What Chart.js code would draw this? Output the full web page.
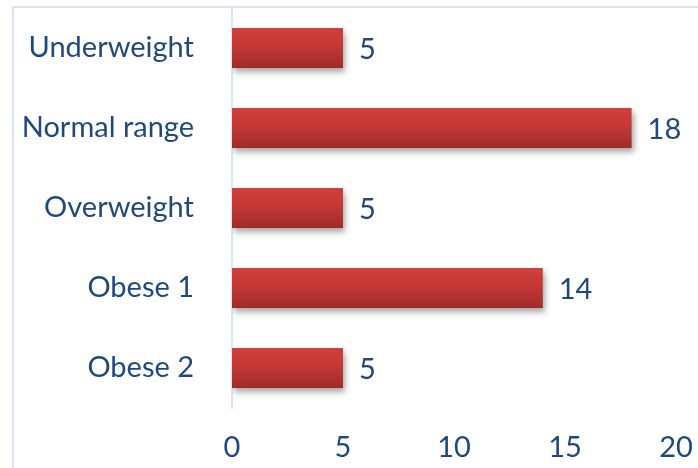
<!DOCTYPE html>
<html>
<head>
<meta charset="utf-8">
<script src="https://cdn.jsdelivr.net/npm/chart.js@4/dist/chart.umd.min.js"></script>
<style>
  html, body { margin: 0; padding: 0; background: #fff; overflow: hidden; }
  #wrap { width: 698px; height: 468px; }
</style>
</head>
<body>
<div id="wrap"><canvas id="bmiChart"></canvas></div>
<script>
const categories = ["Underweight", "Normal range", "Overweight", "Obese 1", "Obese 2"];
const counts = [5, 18, 5, 14, 5];
const xTicks = [0, 5, 10, 15, 20];

const textColor = "#1F497D";
const lineColor = "#DAE4F2";
const fontFamily = "Lato, 'Open Sans', sans-serif";

// light frame around the plot
const framePlugin = {
  id: "frame",
  beforeDraw(chart) {
    const ctx = chart.ctx;
    ctx.save();
    ctx.strokeStyle = lineColor;
    ctx.lineWidth = 2;
    ctx.strokeRect(13, 7, 1000, 1000);
    ctx.restore();
  }
};

// soft drop shadow under the bars
const shadowPlugin = {
  id: "barShadow",
  beforeDatasetDraw(chart) {
    const ctx = chart.ctx;
    ctx.save();
    ctx.shadowColor = "rgba(0,0,0,0.35)";
    ctx.shadowBlur = 6;
    ctx.shadowOffsetX = 2;
    ctx.shadowOffsetY = 4;
  },
  afterDatasetDraw(chart) {
    chart.ctx.restore();
  }
};

// value text to the right of each bar
const valuePlugin = {
  id: "values",
  afterDatasetsDraw(chart) {
    const ctx = chart.ctx;
    const meta = chart.getDatasetMeta(0);
    ctx.save();
    ctx.fillStyle = textColor;
    ctx.font = "29px " + fontFamily;
    ctx.textAlign = "left";
    ctx.textBaseline = "middle";
    meta.data.forEach(function (bar, i) {
      ctx.fillText(String(counts[i]), bar.x + 16, bar.y + 2);
    });
    ctx.restore();
  }
};

function barFill(context) {
  const chart = context.chart;
  const yScale = chart.scales.y;
  if (!chart.chartArea || !yScale) return "#C0403D";
  const yc = yScale.getPixelForValue(context.dataIndex);
  const g = chart.ctx.createLinearGradient(0, yc - 20, 0, yc + 20);
  g.addColorStop(0, "#D23F3C");
  g.addColorStop(0.5, "#C23835");
  g.addColorStop(1, "#9E2A2A");
  return g;
}

new Chart(document.getElementById("bmiChart"), {
  type: "bar",
  data: {
    labels: categories,
    datasets: [{
      data: counts,
      backgroundColor: barFill,
      borderWidth: 0,
      categoryPercentage: 1,
      barPercentage: 0.5
    }]
  },
  options: {
    indexAxis: "y",
    responsive: true,
    maintainAspectRatio: false,
    animation: false,
    layout: { padding: { top: 8, right: 22, left: 0, bottom: 0 } },
    plugins: {
      legend: { display: false },
      tooltip: { enabled: false }
    },
    scales: {
      x: {
        min: 0,
        max: 20,
        afterBuildTicks(scale) {
          scale.ticks = xTicks.map(v => ({ value: v }));
        },
        afterFit(scale) {
          scale.height = 60;
          scale.paddingLeft = 0;
          scale.paddingRight = 0;
        },
        grid: { display: false, drawTicks: false },
        border: { display: false },
        ticks: {
          color: textColor,
          font: { family: fontFamily, size: 29 },
          maxRotation: 0,
          padding: 22
        }
      },
      y: {
        afterFit(scale) {
          scale.width = 232;
          scale.paddingTop = 0;
          scale.paddingBottom = 0;
        },
        grid: { display: false, drawTicks: false },
        border: { display: true, color: lineColor, width: 2 },
        ticks: {
          color: textColor,
          font: { family: fontFamily, size: 29 },
          padding: 38
        }
      }
    }
  },
  plugins: [framePlugin, shadowPlugin, valuePlugin]
});
</script>
</body>
</html>
